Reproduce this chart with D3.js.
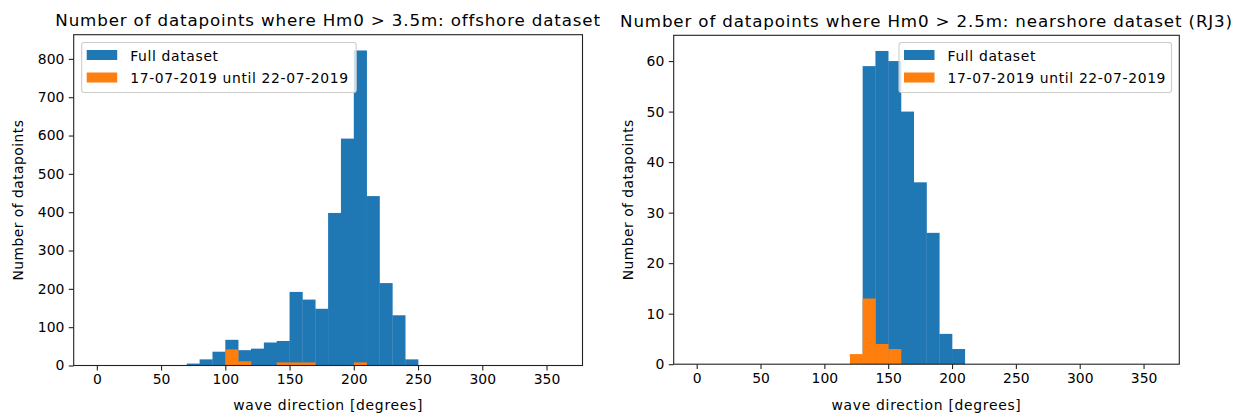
<!DOCTYPE html>
<head>
<meta charset="utf-8">
<title>Wave direction histograms</title>
<style>
body { margin: 0; background: #fff; }
svg text { font-family: "DejaVu Sans", sans-serif; fill: #000; }
</style>
</head>
<div id="container"></div>
<script src="https://d3js.org/d3.v7.min.js"></script>
<script>
// bin edges every 10 degrees, 0..360
const binEdges = d3.range(0, 370, 10);

// offshore: counts per bin, starting at 0 deg
const offshoreFull = [0, 0, 0, 0, 0, 0, 0, 5, 16, 36, 67, 40, 44, 60, 64, 192, 172, 148,
    398, 592, 822, 442, 215, 131, 16, 0, 0, 0, 0, 0, 0, 0, 0, 0, 0, 0];
const offshoreWeek = [0, 0, 0, 0, 0, 0, 0, 0, 0, 0, 42, 11, 0, 0, 8, 8, 8, 0,
    0, 0, 8, 0, 0, 0, 0, 0, 0, 0, 0, 0, 0, 0, 0, 0, 0, 0];

// nearshore (RJ3)
const nearFull = [0, 0, 0, 0, 0, 0, 0, 0, 0, 0, 0, 0, 0, 59, 62, 60, 50, 36,
    26, 6, 3, 0, 0, 0, 0, 0, 0, 0, 0, 0, 0, 0, 0, 0, 0, 0];
const nearWeek = [0, 0, 0, 0, 0, 0, 0, 0, 0, 0, 0, 0, 2, 13, 4, 3, 0, 0,
    0, 0, 0, 0, 0, 0, 0, 0, 0, 0, 0, 0, 0, 0, 0, 0, 0, 0];

const xTicks = [0, 50, 100, 150, 200, 250, 300, 350];
const offshoreYTicks = [0, 100, 200, 300, 400, 500, 600, 700, 800];
const nearYTicks = [0, 10, 20, 30, 40, 50, 60];

const legendLabels = ["Full dataset", "17-07-2019 until 22-07-2019"];
const colors = ["#1f77b4", "#ff7f0e"];

const width = 1242;
const height = 414;

const svg = d3.create("svg")
    .attr("width", width)
    .attr("height", height);

function panel(opts) {
    const {left, right, top, bottom, full, week, yTicks, title, legendX, legendW} = opts;

    const x = d3.scaleLinear()
        .domain([-18, 378])
        .range([left, right]);

    const ymax = d3.max(full) * 1.05;
    const y = d3.scaleLinear()
        .domain([0, ymax])
        .range([bottom, top]);

    const g = svg.append("g");

    // histograms: full dataset first, then the week on top
    [full, week].forEach((counts, k) => {
        g.append("g")
            .attr("fill", colors[k])
            .selectAll("rect")
            .data(counts.map((c, i) => ({x0: binEdges[i], x1: binEdges[i + 1], c})).filter(d => d.c > 0))
            .join("rect")
            .attr("x", d => x(d.x0))
            .attr("width", d => x(d.x1) - x(d.x0) + 0.3)
            .attr("y", d => y(d.c))
            .attr("height", d => y(0) - y(d.c));
    });

    // frame
    g.append("rect")
        .attr("x", left)
        .attr("y", top)
        .attr("width", right - left)
        .attr("height", bottom - top)
        .attr("fill", "none")
        .attr("stroke", "#222")
        .attr("stroke-width", 1.1);

    // x-axis
    const xa = g.append("g")
        .attr("transform", `translate(0,${bottom})`)
        .call(d3.axisBottom(x).tickValues(xTicks).tickSize(4.9).tickPadding(4).tickFormat(d3.format("d")));
    // y-axis
    const ya = g.append("g")
        .attr("transform", `translate(${left},0)`)
        .call(d3.axisLeft(y).tickValues(yTicks).tickSize(4.9).tickPadding(4.5).tickFormat(d3.format("d")));
    [xa, ya].forEach(a => {
        a.select(".domain").remove();
        a.selectAll(".tick line").attr("stroke", "#222").attr("stroke-width", 1.1);
        a.selectAll(".tick text").attr("font-size", 13.9).attr("font-family", "DejaVu Sans").attr("fill", "#000");
    });

    // title
    g.append("text")
        .attr("x", (left + right) / 2)
        .attr("y", top - 8.6)
        .attr("text-anchor", "middle")
        .attr("font-size", 16.7)
        .attr("letter-spacing", 0.85)
        .text(title);

    // axis labels
    g.append("text")
        .attr("x", (left + right) / 2)
        .attr("y", 410)
        .attr("text-anchor", "middle")
        .attr("font-size", 13.9)
        .attr("letter-spacing", 0.7)
        .text("wave direction [degrees]");
    g.append("text")
        .attr("transform", `translate(${opts.ylabelX},${(top + bottom) / 2}) rotate(-90)`)
        .attr("text-anchor", "middle")
        .attr("font-size", 13.9)
        .attr("letter-spacing", 0.45)
        .text("Number of datapoints");

    // legend
    const lg = g.append("g").attr("transform", `translate(${legendX},42.5)`);
    lg.append("rect")
        .attr("width", legendW)
        .attr("height", 50)
        .attr("rx", 2.5)
        .attr("fill", "#fff")
        .attr("fill-opacity", 0.8)
        .attr("stroke", "#cccccc")
        .attr("stroke-width", 1.1);
    legendLabels.forEach((lab, k) => {
        lg.append("rect")
            .attr("x", 5)
            .attr("y", 7.5 + k * 22.5)
            .attr("width", 30.5)
            .attr("height", 10)
            .attr("fill", colors[k]);
        lg.append("text")
            .attr("x", 48.5)
            .attr("y", 18 + k * 22.5)
            .attr("font-size", 13.9)
            .attr("letter-spacing", 0.65)
            .text(lab);
    });
}

panel({
    left: 73.7, right: 582.5, top: 34.7, bottom: 365.5,
    full: offshoreFull, week: offshoreWeek, yTicks: offshoreYTicks,
    title: "Number of datapoints where Hm0 > 3.5m: offshore dataset",
    legendX: 81.7, legendW: 274.5, ylabelX: 23
});

panel({
    left: 673.7, right: 1179.3, top: 35.3, bottom: 364.2,
    full: nearFull, week: nearWeek, yTicks: nearYTicks,
    title: "Number of datapoints where Hm0 > 2.5m: nearshore dataset (RJ3)",
    legendX: 899, legendW: 272.5, ylabelX: 633
});

container.append(svg.node());
</script>
